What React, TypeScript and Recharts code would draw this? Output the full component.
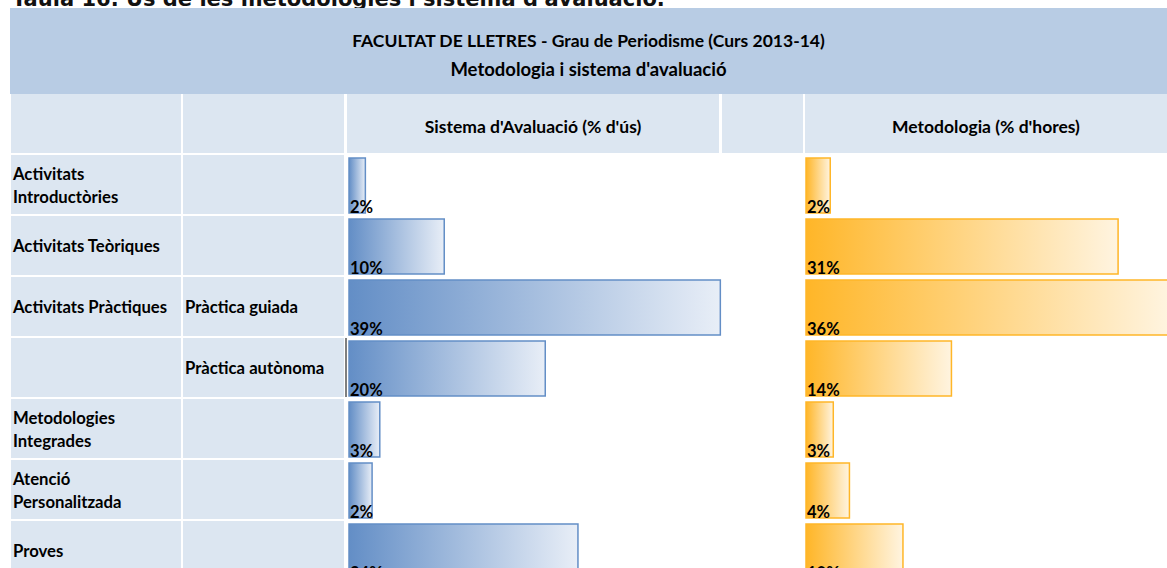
import React from 'react'
import { BarChart, Bar, XAxis, YAxis, LabelList } from 'recharts'

const categories = [
  'Activitats\nIntroductòries',
  'Activitats Teòriques',
  'Activitats Pràctiques',
  '',
  'Metodologies\nIntegrades',
  'Atenció\nPersonalitzada',
  'Proves'
]
const subcategories = ['', '', 'Pràctica guiada', 'Pràctica autònoma', '', '', '']

// % d'ús del sistema d'avaluació
const avaluacio = [1.7, 9.9, 38.6, 20.4, 3.2, 2.4, 23.8]
// % d'hores de metodologia
const metodologia = [2.4, 30.9, 36.0, 14.4, 2.7, 4.3, 9.6]

const pageTitle = "Taula 16. Ús de les metodologies i sistema d'avaluació."
const titleLines = ['FACULTAT DE LLETRES - Grau de Periodisme (Curs 2013-14)', "Metodologia i sistema d'avaluació"]
const columnTitles = ["Sistema d'Avaluació (% d'ús)", 'Metodologia (% d\'hores)']

const rows = categories.map((c, i) => ({
  name: `r${i}`,
  avaluacio: avaluacio[i],
  metodologia: metodologia[i]
}))

const FONT = 'Lato, "Noto Sans", sans-serif'
const LIGHT = '#dce6f1'
const HEADER = '#b8cce4'
const ROW_TOP = 155
const ROW_H = 61
const DOMAIN_MAX = 50

const renderPct = (props: any) => {
  const { x, y, height, value } = props
  return (
    <text
      x={x + 1}
      y={y + height - 0.5}
      fontFamily={FONT}
      fontWeight={700}
      fontSize={16.5}
      fill="#000"
    >
      {`${Math.round(value)}%`}
    </text>
  )
}

function BarColumn({ dataKey, color, endColor, id, pxPerUnit }: { dataKey: string; color: string; endColor: string; id: string; pxPerUnit: number }) {
  const w = DOMAIN_MAX * pxPerUnit
  return (
    <BarChart
      width={w + 2}
      height={ROW_H * rows.length}
      data={rows}
      layout="vertical"
      margin={{ top: 0, right: 0, bottom: 0, left: 2 }}
      barCategoryGap={3}
    >
      <defs>
        <linearGradient id={id} x1="0" y1="0" x2="1" y2="0">
          <stop offset="0%" stopColor={color} />
          <stop offset="100%" stopColor={endColor} />
        </linearGradient>
      </defs>
      <XAxis type="number" hide domain={[0, DOMAIN_MAX]} />
      <YAxis type="category" dataKey="name" hide />
      <Bar dataKey={dataKey} fill={`url(#${id})`} stroke={color} strokeWidth={1.5} isAnimationActive={false}>
        <LabelList dataKey={dataKey} content={renderPct} />
      </Bar>
    </BarChart>
  )
}

const cell = (left: number, top: number, width: number, height: number, bg: string): React.CSSProperties => ({
  position: 'absolute',
  left,
  top,
  width,
  height,
  background: bg,
  boxSizing: 'border-box'
})

const labelStyle: React.CSSProperties = {
  display: 'flex',
  alignItems: 'center',
  paddingLeft: 2,
  paddingTop: 2,
  whiteSpace: 'pre-line',
  fontWeight: 700,
  fontSize: 16.7,
  lineHeight: '23px'
}

const colTitleStyle: React.CSSProperties = {
  display: 'flex',
  alignItems: 'center',
  justifyContent: 'center',
  paddingTop: 5,
  fontWeight: 700,
  fontSize: 17.5,
  whiteSpace: 'nowrap'
}

export default function App() {
  return (
    <div
      style={{
        position: 'fixed',
        top: 0,
        left: 0,
        width: 1167,
        height: 568,
        overflow: 'hidden',
        background: '#fff',
        fontFamily: FONT,
        color: '#000'
      }}
    >
      <div
        style={{
          position: 'absolute',
          left: 12,
          top: -11,
          fontFamily: '"DejaVu Sans", Verdana, sans-serif',
          fontWeight: 700,
          fontSize: 21,
          lineHeight: '20px',
          whiteSpace: 'nowrap',
          color: '#111'
        }}
      >
        {pageTitle}
      </div>

      <div style={{ ...cell(10, 8, 1157, 86, HEADER), textAlign: 'center', fontWeight: 700, fontSize: 17.5, paddingTop: 18.5, whiteSpace: 'nowrap' }}>
        <div style={{ lineHeight: '28px' }}>{titleLines[0]}</div>
        <div style={{ lineHeight: '28px', fontSize: 18.5 }}>{titleLines[1]}</div>
      </div>

      <div style={cell(11, 94, 170, 59, LIGHT)} />
      <div style={cell(183, 94, 161, 59, LIGHT)} />
      <div style={{ ...cell(347, 94, 372, 59, LIGHT), ...colTitleStyle }}>{columnTitles[0]}</div>
      <div style={cell(722, 94, 81, 59, LIGHT)} />
      <div style={{ ...cell(805, 94, 362, 59, LIGHT), ...colTitleStyle }}>{columnTitles[1]}</div>

      {categories.map((c, i) => (
        <React.Fragment key={i}>
          <div style={{ ...cell(11, ROW_TOP + i * ROW_H, 170, 59, LIGHT), ...labelStyle }}>{c}</div>
          <div style={{ ...cell(183, ROW_TOP + i * ROW_H, 161, 59, LIGHT), ...labelStyle, whiteSpace: 'nowrap' }}>
            {subcategories[i]}
          </div>
        </React.Fragment>
      ))}

      <div style={cell(345, ROW_TOP + 3 * ROW_H, 2, 59, '#7f7f7f')} />

      <div style={{ position: 'absolute', left: 346.5, top: ROW_TOP }}>
        <BarColumn dataKey="avaluacio" color="#638ec6" endColor="#e8eef7" id="gradBlue" pxPerUnit={9.62} />
      </div>
      <div style={{ position: 'absolute', left: 803.5, top: ROW_TOP }}>
        <BarColumn dataKey="metodologia" color="#ffb628" endColor="#fff4e0" id="gradOrange" pxPerUnit={10.1} />
      </div>
    </div>
  )
}
